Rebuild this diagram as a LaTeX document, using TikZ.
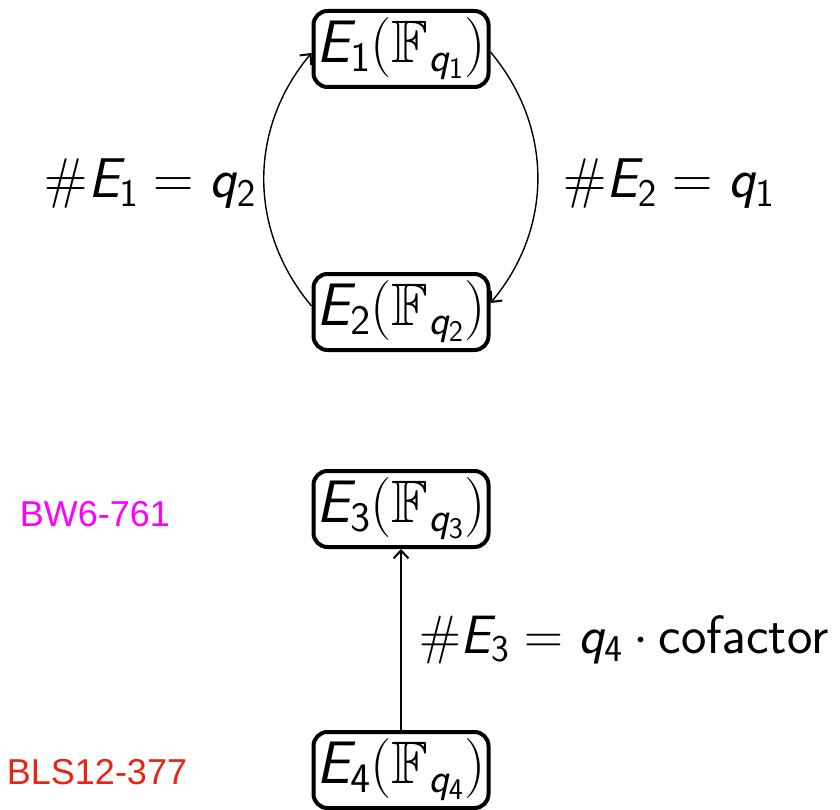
\documentclass[tikz,border=0pt]{standalone}
\usepackage{fix-cm}
\usepackage{amssymb}
\usepackage[no-math]{fontspec}
\usetikzlibrary{arrows.meta}
\newfontfamily\arialfont{Liberation Sans}
\DeclareMathAlphabet{\mathsl}{OT1}{cmss}{m}{sl}
\DeclareMathAlphabet{\mathss}{OT1}{cmss}{m}{n}
\newcommand{\curve}[1]{\mathsl{E}_{\mathss{#1}}(\mathbb{F}_{\mathsl{q}_{\mathss{#1}}})}
\definecolor{labmag}{RGB}{255,0,255}
\definecolor{labred}{RGB}{232,36,20}
\tikzset{
  curvebox/.style={draw, line width=4pt, rounded corners=14pt, minimum width=175pt,
    minimum height=76pt, inner sep=2pt, font=\fontsize{60}{66}\selectfont},
  eqlabel/.style={font=\fontsize{56}{62}\selectfont, inner sep=0pt},
  conn/.style={-{Straight Barb[length=8pt,width=15pt,line width=2pt]}, line width=1.4pt},
  famlabel/.style={font=\arialfont\fontsize{36}{40}\selectfont, inner sep=0pt}
}
\begin{document}
\begin{tikzpicture}[x=1pt,y=1pt]
\useasboundingbox (0,0) rectangle (840,-810);
\node[curvebox] (e1) at (401,-49) {$\curve{1}$};
\node[curvebox] (e2) at (401,-312) {$\curve{2}$};
\node[curvebox] (e3) at (401,-509) {$\curve{3}$};
\node[curvebox] (e4) at (401,-770) {$\curve{4}$};
\draw[conn] ([yshift=6pt]e2.west) to[bend left=40] ([yshift=-4pt]e1.west);
\draw[conn] ([yshift=-3pt]e1.east) to[bend left=40] ([yshift=9pt]e2.east);
\draw[conn] (e4.north) -- (e3.south);
\node[eqlabel, anchor=east] (l1) at (256,-184) {$\#\mathsl{E}_{\mathss{1}} = \mathsl{q}_{\mathss{2}}$};
\node[eqlabel, anchor=west] (l2) at (563,-184) {$\#\mathsl{E}_{\mathss{2}} = \mathsl{q}_{\mathss{1}}$};
\node[eqlabel, anchor=west, font=\fontsize{54}{60}\selectfont] (l3) at (419,-640) {$\medmuskip=3.5mu \#\mathsl{E}_{\mathss{3}} = \mathsl{q}_{\mathss{4}}\cdot\mathss{cofactor}$};
\node[famlabel, text=labmag] (bw) at (95,-514) {BW6-761};
\node[famlabel, text=labred] (bls) at (97,-772) {BLS12-377};
\end{tikzpicture}
\end{document}
